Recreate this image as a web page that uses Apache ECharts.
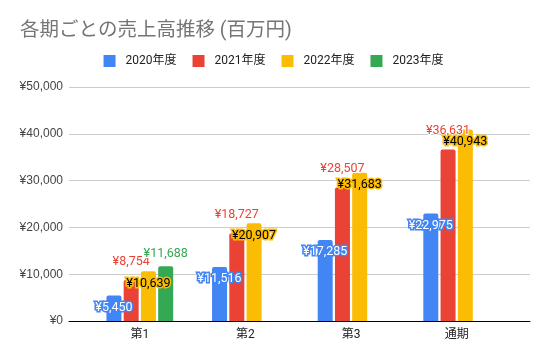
<!DOCTYPE html>
<html><head><meta charset="utf-8">
<script src="https://cdn.jsdelivr.net/npm/echarts@6/dist/echarts.min.js"></script>
<style>html,body{margin:0;padding:0;background:#fff}#c{width:547px;height:360px}</style>
</head><body><div id="c"></div>
<script>
var titleText = '各期ごとの売上高推移 (百万円)';
var categories = ['第1', '第2', '第3', '通期'];
var seriesNames = ['2020年度', '2021年度', '2022年度', '2023年度'];
var values2020 = [5450, 11516, 17285, 22975];
var values2021 = [8754, 18727, 28507, 36631];
var values2022 = [10639, 20907, 31683, 40943];
var values2023 = [11688, null, null, null];
var yTicks = [0, 10000, 20000, 30000, 40000, 50000];

var FONT = 'Roboto, "Noto Sans CJK JP", sans-serif';
var colors = ['#4285f4', '#ea4335', '#fbbc04', '#34a853'];
function yen(v){ return '¥' + Number(v).toLocaleString('en-US'); }

var labelStyles = [
  {show:true, position:'insideTop', distance:6, color:'#fff', textBorderColor:'#4285f4', textBorderWidth:3},
  {show:true, position:'top', distance:12, color:'#ea4335', textBorderColor:'#fff', textBorderWidth:2},
  {show:true, position:'insideTop', distance:6, color:'#000', textBorderColor:'#fbbc04', textBorderWidth:3},
  {show:true, position:'top', distance:6, color:'#34a853', textBorderColor:'#fff', textBorderWidth:2}
];
var allValues = [values2020, values2021, values2022, values2023];

var series = allValues.map(function(vals, i){
  var lbl = Object.assign({fontSize:12.5, fontFamily:FONT, formatter:function(p){return yen(p.value);}}, labelStyles[i]);
  return {
    name: seriesNames[i], type:'bar', xAxisIndex:1, yAxisIndex:1,
    data: vals, barWidth:15, barGap:'15%',
    itemStyle:{color:colors[i], borderRadius:[2,2,0,0]},
    label: lbl
  };
});

var chart = echarts.init(document.getElementById('c'), null, {renderer:'canvas'});
chart.setOption({
  animation:false,
  color: colors,
  title:{text:titleText, left:20, top:21, padding:0,
    textStyle:{fontSize:19.5, fontWeight:'normal', color:'#757575', fontFamily:FONT}},
  legend:{data:seriesNames, top:55, left:'center', padding:0, icon:'rect',
    itemWidth:12, itemHeight:12, itemGap:16,
    textStyle:{fontSize:12, color:'#222', fontFamily:FONT, padding:[0,0,0,5]}},
  grid:[
    {left:69, right:17, top:87, bottom:39},
    {left:87, right:37.5, top:87, bottom:39}
  ],
  xAxis:[
    {gridIndex:0, type:'value', min:0, max:1, axisLabel:{show:false}, axisTick:{show:false},
     splitLine:{show:false}, axisLine:{show:true, lineStyle:{color:'#000', width:1}}, z:5},
    {gridIndex:1, type:'category', data:categories, axisLine:{show:false}, axisTick:{show:false},
     axisLabel:{fontSize:12, color:'#222', margin:8, fontFamily:FONT}}
  ],
  yAxis:[
    {gridIndex:0, type:'value', min:yTicks[0], max:yTicks[yTicks.length-1], interval:10000,
     axisLine:{show:false}, axisTick:{show:false},
     axisLabel:{fontSize:12, color:'#444', margin:6, fontFamily:'Arial, "Liberation Sans", sans-serif', formatter:yen},
     splitLine:{lineStyle:{color:'#ccc'}}},
    {gridIndex:1, type:'value', min:yTicks[0], max:yTicks[yTicks.length-1], show:false, splitLine:{show:false}}
  ],
  series: series
});
</script></body></html>
